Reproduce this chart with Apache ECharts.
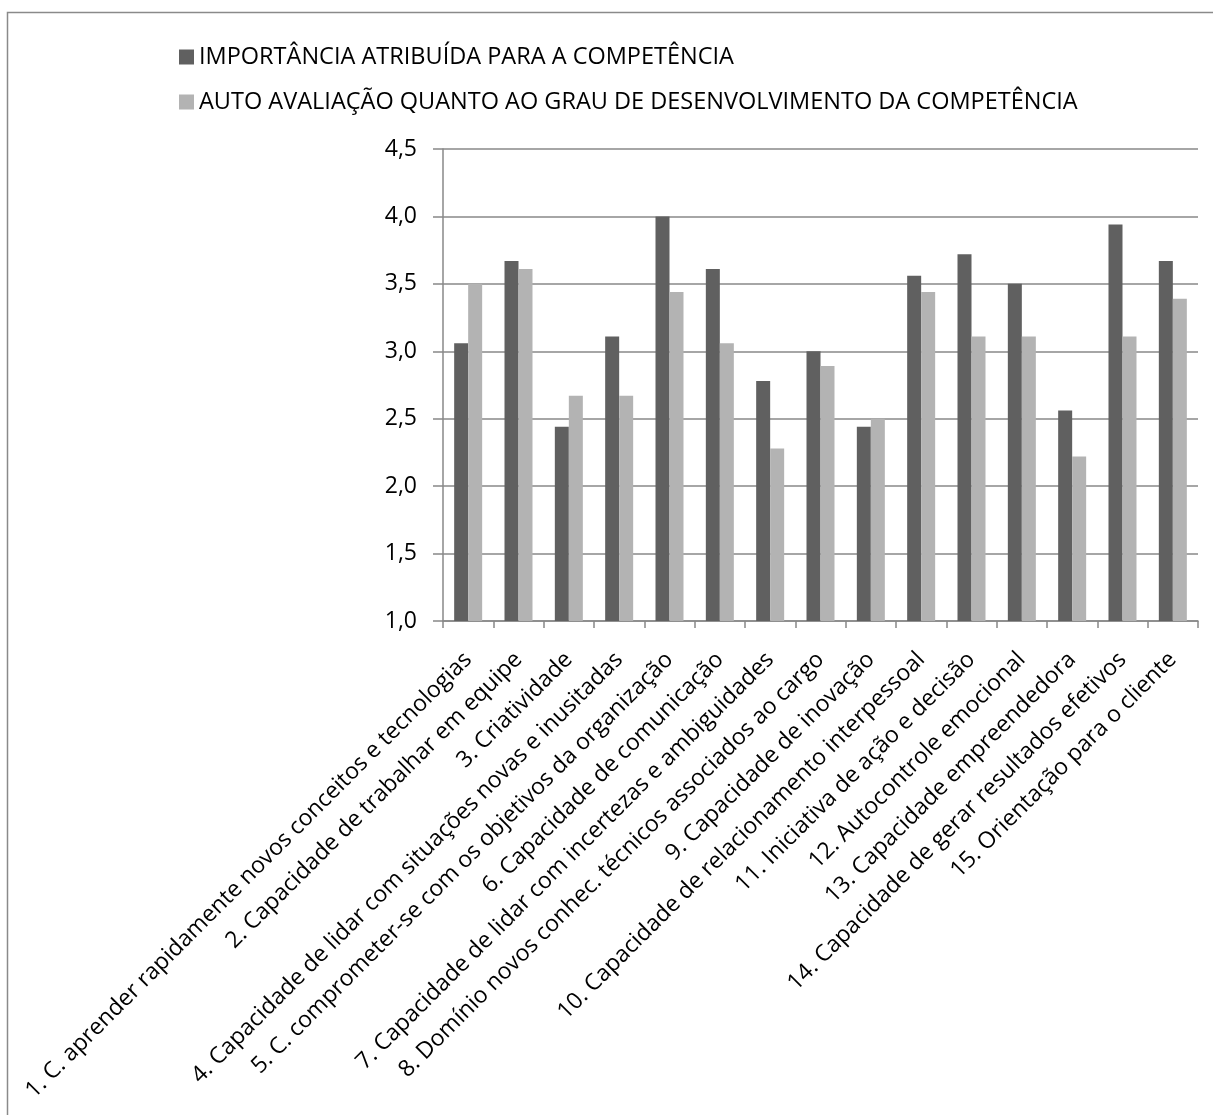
<!DOCTYPE html>
<html>
<head>
<meta charset="utf-8">
<script src="https://cdn.jsdelivr.net/npm/echarts@6/dist/echarts.min.js"></script>
<style>
  html, body { margin: 0; padding: 0; background: #fff; }
  #chart { width: 1213px; height: 1115px; }
</style>
</head>
<body>
<div id="chart"></div>
<script>
// Competências avaliadas (eixo X)
const categories = [
  '1. C. aprender rapidamente novos conceitos e tecnologias',
  '2. Capacidade de trabalhar em equipe',
  '3. Criatividade',
  '4. Capacidade de lidar com situações novas e inusitadas',
  '5. C. comprometer-se com os objetivos da organização',
  '6. Capacidade de comunicação',
  '7. Capacidade de lidar com incertezas e ambiguidades',
  '8. Domínio novos conhec. técnicos associados ao cargo',
  '9. Capacidade de inovação',
  '10. Capacidade de relacionamento interpessoal',
  '11. Iniciativa de ação e decisão',
  '12. Autocontrole emocional',
  '13. Capacidade empreendedora',
  '14. Capacidade de gerar resultados efetivos',
  '15. Orientação para o cliente'
];

const seriesNames = [
  'IMPORTÂNCIA ATRIBUÍDA PARA A COMPETÊNCIA',
  'AUTO AVALIAÇÃO QUANTO AO GRAU DE DESENVOLVIMENTO DA COMPETÊNCIA'
];

// Médias por competência
const importancia = [3.06, 3.67, 2.44, 3.11, 4.00, 3.61, 2.78, 3.00, 2.44, 3.56, 3.72, 3.50, 2.56, 3.94, 3.67];
const autoAvaliacao = [3.50, 3.61, 2.67, 2.67, 3.44, 3.06, 2.28, 2.89, 2.50, 3.44, 3.11, 3.11, 2.22, 3.11, 3.39];

// Eixo Y
const yMin = 1.0;
const yMax = 4.5;
const yStep = 0.5;

const FONT = '"Open Sans", "Noto Sans", sans-serif';
const GRID_COLOR = '#888888';

const chart = echarts.init(document.getElementById('chart'), null, { renderer: 'canvas' });

chart.setOption({
  backgroundColor: '#ffffff',
  animation: false,
  graphic: [{
    type: 'rect',
    shape: { x: 7.5, y: 12.5, width: 1230, height: 1130 },
    style: { fill: 'none', stroke: '#8a8a8a', lineWidth: 1.5 },
    silent: true
  }],
  legend: {
    orient: 'vertical',
    left: 174,
    top: 40,
    itemWidth: 15,
    itemHeight: 15,
    itemGap: 21,
    icon: 'rect',
    textStyle: { fontFamily: FONT, fontSize: 23.5, color: '#000', padding: [0, 0, 0, 0] },
    data: seriesNames
  },
  grid: {
    left: 443,
    right: 15,
    top: 149,
    bottom: 494,
    containLabel: false
  },
  xAxis: {
    type: 'category',
    data: categories,
    axisLine: { lineStyle: { color: GRID_COLOR, width: 1.5 } },
    axisTick: { show: true, length: 7, lineStyle: { color: GRID_COLOR, width: 1.5 } },
    axisLabel: {
      interval: 0,
      rotate: 45,
      margin: 35,
      fontFamily: FONT,
      fontSize: 23,
      color: '#000'
    }
  },
  yAxis: {
    type: 'value',
    min: yMin,
    max: yMax,
    interval: yStep,
    axisLine: { show: true, lineStyle: { color: GRID_COLOR, width: 1.5 } },
    axisTick: { show: true, length: 10, lineStyle: { color: GRID_COLOR, width: 1.5 } },
    splitLine: { show: true, lineStyle: { color: GRID_COLOR, width: 1.5 } },
    axisLabel: {
      margin: 26,
      fontFamily: FONT,
      fontSize: 23,
      color: '#000',
      formatter: v => v.toFixed(1).replace('.', ',')
    }
  },
  series: [
    {
      name: seriesNames[0],
      type: 'bar',
      data: importancia,
      barWidth: 14,
      barGap: '0%',
      itemStyle: { color: '#606060' }
    },
    {
      name: seriesNames[1],
      type: 'bar',
      data: autoAvaliacao,
      barWidth: 14,
      barGap: '0%',
      itemStyle: { color: '#b3b3b3' }
    }
  ]
});
</script>
</body>
</html>
